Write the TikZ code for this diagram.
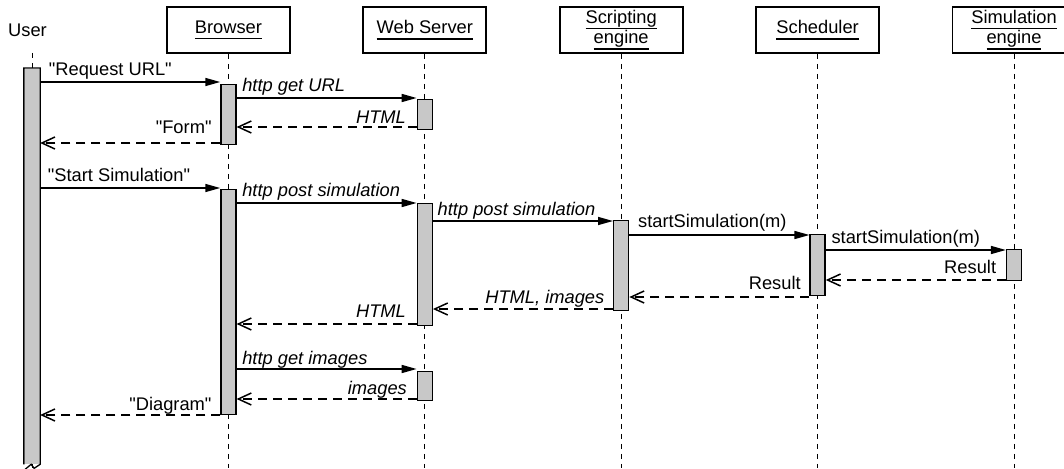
\documentclass[tikz,border=0pt]{standalone}
\usepackage{fontspec}
\setmainfont{Liberation Sans}[Ligatures=TeXOff]
\usetikzlibrary{arrows.meta}
\definecolor{barfill}{RGB}{200,200,200}
\newcommand{\undl}[1]{\vtop{\hbox{\vphantom{g}#1}\kern0.8pt\hrule height 1.3pt}}
\begin{document}
\begin{tikzpicture}[x=1pt,y=-1pt,
  every node/.style={font=\fontsize{18.3}{18}\selectfont},
  head/.style={draw, line width=1.8pt, minimum width=123pt, minimum height=46pt, inner sep=0pt, align=center},
  life/.style={line width=1pt, dash pattern=on 5pt off 5pt},
  bar/.style={draw, fill=barfill, line width=1.3pt, minimum width=15pt, inner sep=0pt, anchor=north},
  call/.style={line width=1.5pt, -{Triangle[length=15pt,width=8pt]}},
  ret/.style={line width=1.5pt, dash pattern=on 9pt off 6pt, -{Straight Barb[length=13pt,width=12pt]}},
  lf/.style={anchor=base west, inner sep=0pt},
  lr/.style={anchor=base east, inner sep=0pt},
  it/.style={font=\fontsize{18.3}{18}\selectfont\itshape}
]
\useasboundingbox (0,0) rectangle (1064,468);

% headers
\node[inner sep=0pt] (hU) at (27.5,30) {User};
\coordinate (uTop) at (32,53);
\node[head] (hB) at (228.4,30) {\undl{Browser}};
\node[head] (hW) at (424.8,30) {\undl{Web Server}};
\node[head] (hS) at (621.2,30) {\undl{Scripting}\\\undl{engine}};
\node[head] (hC) at (817.6,30) {\undl{Scheduler}};
\node[head] (hM) at (1014,30) {\undl{Simulation}\\\undl{engine}};

% lifelines
\draw[life] (uTop) -- (uTop |- 0,468);
\foreach \h in {hB,hW,hS,hC,hM}
  \draw[life] (\h.south) -- (\h.south |- 0,468);

% activation bars
\node[bar, draw=none, minimum height=395pt] (uA) at (32,68) {};
\draw[line width=1.3pt] (uA.south west) -- (uA.north west) -- (uA.north east) -- (uA.south east)
  -- ++(-6,4) -- ++(-3,-4) -- ++(-6,5);
\node[bar, minimum height=60pt] (bA1) at (228.4,84) {};
\node[bar, minimum height=30pt] (wA1) at (424.8,99) {};
\node[bar, minimum height=225pt] (bA2) at (228.4,189) {};
\node[bar, minimum height=122pt] (wA2) at (424.8,203) {};
\node[bar, minimum height=90pt] (sA) at (621.2,220) {};
\node[bar, minimum height=61pt] (cA) at (817.6,234) {};
\node[bar, minimum height=31pt] (mA) at (1014,249) {};
\node[bar, minimum height=29pt] (wA3) at (424.8,371) {};

% messages
\draw[call] (uA.east |- 0,82) -- (bA1.west |- 0,82)
  node[lf, at start, xshift=8pt, yshift=6pt] {"Request URL"};
\draw[call] (bA1.east |- 0,98) -- (wA1.west |- 0,98)
  node[lf, it, at start, xshift=5pt, yshift=6pt] {http get URL};
\draw[ret] (wA1.west |- 0,127) -- (bA1.east |- 0,127)
  node[lr, it, at start, xshift=-10pt, yshift=4pt] {HTML};
\draw[ret] (bA1.west |- 0,143) -- (uA.east |- 0,143)
  node[lr, at start, xshift=-8pt, yshift=10pt] {"Form"};

\draw[call] (uA.east |- 0,188) -- (bA2.west |- 0,188)
  node[lf, at start, xshift=7pt, yshift=7pt] {"Start Simulation"};
\draw[call] (bA2.east |- 0,203) -- (wA2.west |- 0,203)
  node[lf, it, at start, xshift=5pt, yshift=7pt] {http post simulation};
\draw[call] (wA2.east |- 0,221) -- (sA.west |- 0,221)
  node[lf, it, at start, xshift=4pt, yshift=6pt] {http post simulation};
\draw[call] (sA.east |- 0,235) -- (cA.west |- 0,235)
  node[lf, at start, xshift=8pt, yshift=8pt] {startSimulation(m)};
\draw[call] (cA.east |- 0,250) -- (mA.west |- 0,250)
  node[lf, at start, xshift=5pt, yshift=7pt] {startSimulation(m)};
\draw[ret] (mA.west |- 0,280) -- (cA.east |- 0,280)
  node[lr, at start, xshift=-9pt, yshift=7pt] {Result};
\draw[ret] (cA.west |- 0,297) -- (sA.east |- 0,297)
  node[lr, at start, xshift=-8pt, yshift=8pt] {Result};
\draw[ret] (sA.west |- 0,309) -- (wA2.east |- 0,309)
  node[lr, it, at start, xshift=-8pt, yshift=6pt] {HTML, images};
\draw[ret] (wA2.west |- 0,324) -- (bA2.east |- 0,324)
  node[lr, it, at start, xshift=-10pt, yshift=7pt] {HTML};
\draw[call] (bA2.east |- 0,369) -- (wA3.west |- 0,369)
  node[lf, it, at start, xshift=5pt, yshift=5pt] {http get images};
\draw[ret] (wA3.west |- 0,399) -- (bA2.east |- 0,399)
  node[lr, it, at start, xshift=-9pt, yshift=5pt] {images};
\draw[ret] (bA2.west |- 0,415) -- (uA.east |- 0,415)
  node[lr, at start, xshift=-8pt, yshift=5pt] {"Diagram"};
\end{tikzpicture}
\end{document}
